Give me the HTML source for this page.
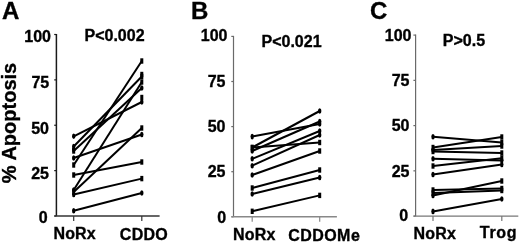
<!DOCTYPE html>
<html><head><meta charset="utf-8"><style>
html,body{margin:0;padding:0;background:#fff;}
svg{display:block;}
text{font-family:"Liberation Sans", sans-serif;font-weight:bold;fill:#000;stroke:#000;stroke-width:0.35px;}
svg{filter:grayscale(1);}
</style></head><body>
<svg width="520" height="242" viewBox="0 0 520 242">
<rect width="520" height="242" fill="#fff"/>
<text x="2.0" y="19.0" font-size="24" text-anchor="start">A</text>
<text x="191.0" y="19.0" font-size="24" text-anchor="start">B</text>
<text x="370.0" y="19.0" font-size="24" text-anchor="start">C</text>
<text x="51.0" y="42.0" font-size="16" text-anchor="end">100</text>
<text x="49.2" y="88.0" font-size="16" text-anchor="end">75</text>
<text x="49.0" y="134.0" font-size="16" text-anchor="end">50</text>
<text x="49.0" y="179.0" font-size="16" text-anchor="end">25</text>
<text x="47.7" y="222.9" font-size="16" text-anchor="end">0</text>
<text x="84.5" y="40.9" font-size="16" text-anchor="start">P&lt;0.002</text>
<text x="53.4" y="239.2" font-size="16" text-anchor="start" letter-spacing="0.2">NoRx</text>
<text x="119.8" y="239.6" font-size="16" text-anchor="start" letter-spacing="0.3">CDDO</text>
<text x="227.5" y="41.0" font-size="16" text-anchor="end">100</text>
<text x="225.5" y="86.5" font-size="16" text-anchor="end">75</text>
<text x="225.5" y="132.0" font-size="16" text-anchor="end">50</text>
<text x="225.5" y="177.0" font-size="16" text-anchor="end">25</text>
<text x="226.2" y="223.3" font-size="16" text-anchor="end">0</text>
<text x="261.5" y="46.5" font-size="16" text-anchor="start">P&lt;0.021</text>
<text x="233.0" y="239.8" font-size="16" text-anchor="start" letter-spacing="0.2">NoRx</text>
<text x="288.2" y="240.5" font-size="16" text-anchor="start" letter-spacing="0.45">CDDOMe</text>
<text x="411.5" y="40.5" font-size="16" text-anchor="end">100</text>
<text x="409.5" y="86.0" font-size="16" text-anchor="end">75</text>
<text x="409.5" y="131.0" font-size="16" text-anchor="end">50</text>
<text x="409.5" y="176.5" font-size="16" text-anchor="end">25</text>
<text x="408.2" y="221.3" font-size="16" text-anchor="end">0</text>
<text x="442.8" y="45.9" font-size="16" text-anchor="start">P&gt;0.5</text>
<text x="413.6" y="238.5" font-size="16" text-anchor="start" letter-spacing="0.2">NoRx</text>
<text x="479.8" y="237.6" font-size="16" text-anchor="start" letter-spacing="0.7">Trog</text>
<text x="0" y="0" font-size="20" text-anchor="middle" transform="translate(16.3 123) rotate(-90)">% Apoptosis</text>
<line x1="56.4" y1="34.0" x2="56.4" y2="216.0" stroke="#1a1a1a" stroke-width="1.5"/>
<line x1="54.199999999999996" y1="34.50" x2="56.4" y2="34.50" stroke="#1a1a1a" stroke-width="1.2"/>
<line x1="54.199999999999996" y1="79.88" x2="56.4" y2="79.88" stroke="#1a1a1a" stroke-width="1.2"/>
<line x1="54.199999999999996" y1="125.25" x2="56.4" y2="125.25" stroke="#1a1a1a" stroke-width="1.2"/>
<line x1="54.199999999999996" y1="170.62" x2="56.4" y2="170.62" stroke="#1a1a1a" stroke-width="1.2"/>
<line x1="54.199999999999996" y1="216.00" x2="56.4" y2="216.00" stroke="#1a1a1a" stroke-width="1.2"/>
<line x1="54.4" y1="216.0" x2="159.6" y2="216.0" stroke="#333" stroke-width="1.6"/>
<line x1="73.7" y1="216.0" x2="73.7" y2="221.0" stroke="#333" stroke-width="1.2"/>
<line x1="141.8" y1="216.0" x2="141.8" y2="221.0" stroke="#333" stroke-width="1.2"/>
<line x1="73.7" y1="136.3" x2="141.8" y2="102" stroke="#000" stroke-width="2"/>
<line x1="73.7" y1="146.5" x2="141.8" y2="76.5" stroke="#000" stroke-width="2"/>
<line x1="73.7" y1="151" x2="141.8" y2="88" stroke="#000" stroke-width="2"/>
<line x1="73.7" y1="158" x2="141.8" y2="134.5" stroke="#000" stroke-width="2"/>
<line x1="73.7" y1="165" x2="141.8" y2="61" stroke="#000" stroke-width="2"/>
<line x1="73.7" y1="175" x2="141.8" y2="162" stroke="#000" stroke-width="2"/>
<line x1="73.7" y1="190" x2="141.8" y2="82" stroke="#000" stroke-width="2"/>
<line x1="73.7" y1="192" x2="141.8" y2="128" stroke="#000" stroke-width="2"/>
<line x1="73.7" y1="194.5" x2="141.8" y2="178.6" stroke="#000" stroke-width="2"/>
<line x1="73.7" y1="210.7" x2="141.8" y2="193" stroke="#000" stroke-width="2"/>
<ellipse cx="73.7" cy="136.3" rx="1.7" ry="2.8" fill="#000"/>
<ellipse cx="141.8" cy="102" rx="1.7" ry="2.8" fill="#000"/>
<ellipse cx="73.7" cy="146.5" rx="1.7" ry="2.8" fill="#000"/>
<rect x="140.30" y="73.80" width="3" height="5.4" fill="#000"/>
<rect x="72.20" y="148.30" width="3" height="5.4" fill="#000"/>
<ellipse cx="141.8" cy="88" rx="1.7" ry="2.8" fill="#000"/>
<ellipse cx="73.7" cy="158" rx="1.7" ry="2.8" fill="#000"/>
<ellipse cx="141.8" cy="134.5" rx="1.7" ry="2.8" fill="#000"/>
<rect x="72.20" y="162.30" width="3" height="5.4" fill="#000"/>
<rect x="140.30" y="58.30" width="3" height="5.4" fill="#000"/>
<rect x="72.20" y="172.30" width="3" height="5.4" fill="#000"/>
<rect x="140.30" y="159.30" width="3" height="5.4" fill="#000"/>
<ellipse cx="73.7" cy="190" rx="1.7" ry="2.8" fill="#000"/>
<rect x="140.30" y="79.30" width="3" height="5.4" fill="#000"/>
<rect x="72.20" y="189.30" width="3" height="5.4" fill="#000"/>
<rect x="140.30" y="125.30" width="3" height="5.4" fill="#000"/>
<ellipse cx="73.7" cy="194.5" rx="1.7" ry="2.8" fill="#000"/>
<rect x="140.30" y="175.90" width="3" height="5.4" fill="#000"/>
<ellipse cx="73.7" cy="210.7" rx="1.7" ry="2.8" fill="#000"/>
<ellipse cx="141.8" cy="193" rx="1.7" ry="2.8" fill="#000"/>
<rect x="140.30" y="94.80" width="3" height="5.4" fill="#000"/>
<rect x="140.30" y="71.80" width="3" height="5.4" fill="#000"/>
<ellipse cx="73.7" cy="149.5" rx="1.7" ry="2.8" fill="#000"/>
<line x1="233.5" y1="35.9" x2="233.5" y2="216.8" stroke="#6a6a6a" stroke-width="1.2"/>
<line x1="231.3" y1="36.40" x2="233.5" y2="36.40" stroke="#6a6a6a" stroke-width="1.2"/>
<line x1="231.3" y1="81.50" x2="233.5" y2="81.50" stroke="#6a6a6a" stroke-width="1.2"/>
<line x1="231.3" y1="126.60" x2="233.5" y2="126.60" stroke="#6a6a6a" stroke-width="1.2"/>
<line x1="231.3" y1="171.70" x2="233.5" y2="171.70" stroke="#6a6a6a" stroke-width="1.2"/>
<line x1="231.3" y1="216.80" x2="233.5" y2="216.80" stroke="#6a6a6a" stroke-width="1.2"/>
<line x1="231.5" y1="216.8" x2="336.9" y2="216.8" stroke="#888" stroke-width="1.4"/>
<line x1="252.2" y1="216.8" x2="252.2" y2="221.8" stroke="#888" stroke-width="1.2"/>
<line x1="319.7" y1="216.8" x2="319.7" y2="221.8" stroke="#888" stroke-width="1.2"/>
<line x1="252.2" y1="136.6" x2="319.7" y2="124" stroke="#000" stroke-width="2"/>
<line x1="252.2" y1="147.5" x2="319.7" y2="111" stroke="#000" stroke-width="2"/>
<line x1="252.2" y1="147.5" x2="319.7" y2="142.5" stroke="#000" stroke-width="2"/>
<line x1="252.2" y1="151" x2="319.7" y2="121.5" stroke="#000" stroke-width="2"/>
<line x1="252.2" y1="158.8" x2="319.7" y2="131" stroke="#000" stroke-width="2"/>
<line x1="252.2" y1="165.7" x2="319.7" y2="135" stroke="#000" stroke-width="2"/>
<line x1="252.2" y1="175" x2="319.7" y2="151" stroke="#000" stroke-width="2"/>
<line x1="252.2" y1="188" x2="319.7" y2="170" stroke="#000" stroke-width="2"/>
<line x1="252.2" y1="194" x2="319.7" y2="177.5" stroke="#000" stroke-width="2"/>
<line x1="252.2" y1="211.3" x2="319.7" y2="195.4" stroke="#000" stroke-width="2"/>
<ellipse cx="252.2" cy="136.6" rx="1.7" ry="2.8" fill="#000"/>
<ellipse cx="319.7" cy="124" rx="1.7" ry="2.8" fill="#000"/>
<rect x="250.70" y="144.80" width="3" height="5.4" fill="#000"/>
<ellipse cx="319.7" cy="111" rx="1.7" ry="2.8" fill="#000"/>
<rect x="250.70" y="144.80" width="3" height="5.4" fill="#000"/>
<rect x="318.20" y="139.80" width="3" height="5.4" fill="#000"/>
<ellipse cx="252.2" cy="151" rx="1.7" ry="2.8" fill="#000"/>
<ellipse cx="319.7" cy="121.5" rx="1.7" ry="2.8" fill="#000"/>
<ellipse cx="252.2" cy="158.8" rx="1.7" ry="2.8" fill="#000"/>
<ellipse cx="319.7" cy="131" rx="1.7" ry="2.8" fill="#000"/>
<ellipse cx="252.2" cy="165.7" rx="1.7" ry="2.8" fill="#000"/>
<ellipse cx="319.7" cy="135" rx="1.7" ry="2.8" fill="#000"/>
<ellipse cx="252.2" cy="175" rx="1.7" ry="2.8" fill="#000"/>
<rect x="318.20" y="148.30" width="3" height="5.4" fill="#000"/>
<rect x="250.70" y="185.30" width="3" height="5.4" fill="#000"/>
<rect x="318.20" y="167.30" width="3" height="5.4" fill="#000"/>
<ellipse cx="252.2" cy="194" rx="1.7" ry="2.8" fill="#000"/>
<ellipse cx="319.7" cy="177.5" rx="1.7" ry="2.8" fill="#000"/>
<rect x="250.70" y="208.60" width="3" height="5.4" fill="#000"/>
<rect x="318.20" y="192.70" width="3" height="5.4" fill="#000"/>
<line x1="415.6" y1="34.6" x2="415.6" y2="216.1" stroke="#6a6a6a" stroke-width="1.2"/>
<line x1="413.40000000000003" y1="35.10" x2="415.6" y2="35.10" stroke="#6a6a6a" stroke-width="1.2"/>
<line x1="413.40000000000003" y1="80.35" x2="415.6" y2="80.35" stroke="#6a6a6a" stroke-width="1.2"/>
<line x1="413.40000000000003" y1="125.60" x2="415.6" y2="125.60" stroke="#6a6a6a" stroke-width="1.2"/>
<line x1="413.40000000000003" y1="170.85" x2="415.6" y2="170.85" stroke="#6a6a6a" stroke-width="1.2"/>
<line x1="413.40000000000003" y1="216.10" x2="415.6" y2="216.10" stroke="#6a6a6a" stroke-width="1.2"/>
<line x1="413.6" y1="216.1" x2="518.3" y2="216.1" stroke="#777" stroke-width="1.4"/>
<line x1="433.0" y1="216.1" x2="433.0" y2="221.1" stroke="#777" stroke-width="1.2"/>
<line x1="501.8" y1="216.1" x2="501.8" y2="221.1" stroke="#777" stroke-width="1.2"/>
<line x1="433.0" y1="136.7" x2="501.8" y2="142.5" stroke="#000" stroke-width="2"/>
<line x1="433.0" y1="147.5" x2="501.8" y2="137" stroke="#000" stroke-width="2"/>
<line x1="433.0" y1="150" x2="501.8" y2="146" stroke="#000" stroke-width="2"/>
<line x1="433.0" y1="151.5" x2="501.8" y2="153" stroke="#000" stroke-width="2"/>
<line x1="433.0" y1="158.8" x2="501.8" y2="160.5" stroke="#000" stroke-width="2"/>
<line x1="433.0" y1="166" x2="501.8" y2="158.2" stroke="#000" stroke-width="2"/>
<line x1="433.0" y1="174.5" x2="501.8" y2="164.5" stroke="#000" stroke-width="2"/>
<line x1="433.0" y1="190" x2="501.8" y2="188.5" stroke="#000" stroke-width="2"/>
<line x1="433.0" y1="193" x2="501.8" y2="190.5" stroke="#000" stroke-width="2"/>
<line x1="433.0" y1="195.5" x2="501.8" y2="181" stroke="#000" stroke-width="2"/>
<line x1="433.0" y1="211.4" x2="501.8" y2="199" stroke="#000" stroke-width="2"/>
<ellipse cx="433.0" cy="136.7" rx="1.7" ry="2.8" fill="#000"/>
<rect x="500.30" y="139.80" width="3" height="5.4" fill="#000"/>
<rect x="431.50" y="144.80" width="3" height="5.4" fill="#000"/>
<rect x="500.30" y="134.30" width="3" height="5.4" fill="#000"/>
<ellipse cx="433.0" cy="150" rx="1.7" ry="2.8" fill="#000"/>
<rect x="500.30" y="143.30" width="3" height="5.4" fill="#000"/>
<rect x="431.50" y="148.80" width="3" height="5.4" fill="#000"/>
<rect x="500.30" y="150.30" width="3" height="5.4" fill="#000"/>
<ellipse cx="433.0" cy="158.8" rx="1.7" ry="2.8" fill="#000"/>
<ellipse cx="501.8" cy="160.5" rx="1.7" ry="2.8" fill="#000"/>
<rect x="431.50" y="163.30" width="3" height="5.4" fill="#000"/>
<rect x="500.30" y="155.50" width="3" height="5.4" fill="#000"/>
<ellipse cx="433.0" cy="174.5" rx="1.7" ry="2.8" fill="#000"/>
<ellipse cx="501.8" cy="164.5" rx="1.7" ry="2.8" fill="#000"/>
<rect x="431.50" y="187.30" width="3" height="5.4" fill="#000"/>
<rect x="500.30" y="185.80" width="3" height="5.4" fill="#000"/>
<rect x="431.50" y="190.30" width="3" height="5.4" fill="#000"/>
<rect x="500.30" y="187.80" width="3" height="5.4" fill="#000"/>
<ellipse cx="433.0" cy="195.5" rx="1.7" ry="2.8" fill="#000"/>
<rect x="500.30" y="178.30" width="3" height="5.4" fill="#000"/>
<ellipse cx="433.0" cy="211.4" rx="1.7" ry="2.8" fill="#000"/>
<ellipse cx="501.8" cy="199" rx="1.7" ry="2.8" fill="#000"/>
</svg>
</body></html>
